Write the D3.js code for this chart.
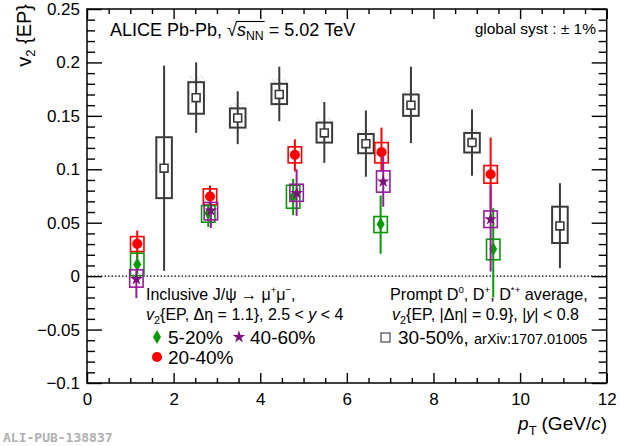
<!DOCTYPE html>
<html><head><meta charset="utf-8">
<script src="https://cdn.jsdelivr.net/npm/d3@7"></script>
<style>
body{margin:0;background:#fff;}
svg{display:block;font-family:"Liberation Sans",Arial,sans-serif;}
</style></head>
<body>
<svg id="c" width="620" height="446"></svg>
<script>
// ---- axis ticks ----
const xMajor = [0, 2, 4, 6, 8, 10, 12];
const yMajor = [-0.1, -0.05, 0, 0.05, 0.1, 0.15, 0.2, 0.25];
const yLabels = ["\u22120.1", "\u22120.05", "0", "0.05", "0.1", "0.15", "0.2", "0.25"];

// ---- Prompt D average, 30-50% ----
const dPt      = [1.78, 2.52, 3.48, 4.44, 5.48, 6.44, 7.48, 8.89, 10.92];
const dV2      = [0.101, 0.167, 0.148, 0.170, 0.134, 0.124, 0.160, 0.125, 0.047];
const dStatHi  = [0.197, 0.200, 0.173, 0.196, 0.163, 0.155, 0.196, 0.156, 0.087];
const dStatLo  = [0.005, 0.134, 0.1235, 0.145, 0.106, 0.093, 0.1245, 0.094, 0.0075];
const dSysHi   = [0.130, 0.1815, 0.157, 0.180, 0.1437, 0.133, 0.170, 0.134, 0.065];
const dSysLo   = [0.073, 0.152, 0.139, 0.161, 0.125, 0.115, 0.150, 0.1157, 0.031];
const dFeedHi  = [0.130, 0.188, 0.162, 0.185, 0.148, 0.137, 0.174, 0.138, 0.065];

// ---- Inclusive J/psi, 5-20% ----
const gPt     = [1.16, 2.80, 4.76, 6.78, 9.38];
const gV2     = [0.011, 0.059, 0.074, 0.0486, 0.0253];
const gStatHi = [0.020, 0.068, 0.091, 0.0754, 0.0636];
const gStatLo = [0.002, 0.046, 0.057, 0.0209, -0.02];
const gSysHi  = [0.0215, 0.066, 0.085, 0.0558, 0.0346];
const gSysLo  = [0.0005, 0.0505, 0.0636, 0.0408, 0.0153];

// ---- Inclusive J/psi, 20-40% ----
const rPt     = [1.16, 2.84, 4.80, 6.80, 9.32];
const rV2     = [0.0302, 0.0745, 0.1135, 0.116, 0.0954];
const rStatHi = [0.0427, 0.0848, 0.128, 0.139, 0.1297];
const rStatLo = [0.0168, 0.0658, 0.098, 0.098, 0.062];
const rSysHi  = [0.037, 0.0817, 0.121, 0.125, 0.1035];
const rSysLo  = [0.023, 0.0667, 0.106, 0.106, 0.087];

// ---- Inclusive J/psi, 40-60% ----
const pPt     = [1.14, 2.86, 4.84, 6.84, 9.32];
const pV2     = [-0.0028, 0.0614, 0.0777, 0.0885, 0.0533];
const pStatHi = [0.006, 0.070, 0.100, 0.112, 0.085];
const pStatLo = [-0.0206, 0.045, 0.0564, 0.065, 0.0043];
const pSysHi  = [0.006, 0.069, 0.086, 0.0985, 0.061];
const pSysLo  = [-0.0103, 0.0527, 0.070, 0.0786, 0.0455];

const svg = d3.select("#c");
const x = d3.scaleLinear().domain([0, 12]).range([87, 606.7]);
const y = d3.scaleLinear().domain([-0.1, 0.25]).range([383, 9]);
const X0 = x(0), X1 = x(12), Y0 = y(0.25), Y1 = y(-0.1);

// hatch pattern
const defs = svg.append("defs");
const pat = defs.append("pattern").attr("id","hatch").attr("patternUnits","userSpaceOnUse")
  .attr("width",4).attr("height",4).attr("patternTransform","rotate(-45)");
pat.append("line").attr("x1",0).attr("y1",0).attr("x2",0).attr("y2",4)
  .attr("stroke","#c8c8c8").attr("stroke-width",1.2);

// zero line
svg.append("line").attr("x1",X0).attr("x2",X1).attr("y1",y(0)).attr("y2",y(0))
  .attr("stroke","#000").attr("stroke-width",1.2).attr("stroke-dasharray","1.5,2");

// ---- axes ----
const xMinor = d3.range(0, 12.01, 0.5).filter(v => Math.abs(v % 2) > 1e-9);
const yMinor = d3.range(-0.1, 0.2501, 0.01).filter(v => Math.abs(Math.round(v*100) % 5) !== 0);

function styleAxis(g){ g.select(".domain").remove(); g.selectAll("line").attr("stroke","#000").attr("stroke-width",1.4); }

svg.append("g").attr("transform",`translate(0,${Y1})`)
  .call(d3.axisBottom(x).tickValues(xMajor).tickSizeInner(-10).tickSizeOuter(0).tickPadding(10).tickFormat(d3.format("d")))
  .call(styleAxis).selectAll("text").attr("font-size",17).attr("font-family","Liberation Sans, Arial").attr("fill","#000");
svg.append("g").attr("transform",`translate(0,${Y1})`)
  .call(d3.axisBottom(x).tickValues(xMinor).tickSizeInner(-5).tickSizeOuter(0).tickFormat(""))
  .call(styleAxis);
svg.append("g").attr("transform",`translate(0,${Y0})`)
  .call(d3.axisTop(x).tickValues(xMajor).tickSizeInner(-10).tickSizeOuter(0).tickFormat(""))
  .call(styleAxis);
svg.append("g").attr("transform",`translate(0,${Y0})`)
  .call(d3.axisTop(x).tickValues(xMinor).tickSizeInner(-5).tickSizeOuter(0).tickFormat(""))
  .call(styleAxis);

svg.append("g").attr("transform",`translate(${X0},0)`)
  .call(d3.axisLeft(y).tickValues(yMajor).tickSizeInner(-15).tickSizeOuter(0).tickPadding(7)
    .tickFormat((d,i) => yLabels[i]))
  .call(styleAxis).selectAll("text").attr("font-size",17).attr("font-family","Liberation Sans, Arial").attr("fill","#000");
svg.append("g").attr("transform",`translate(${X0},0)`)
  .call(d3.axisLeft(y).tickValues(yMinor).tickSizeInner(-8).tickSizeOuter(0).tickFormat(""))
  .call(styleAxis);
svg.append("g").attr("transform",`translate(${X1},0)`)
  .call(d3.axisRight(y).tickValues(yMajor).tickSizeInner(-15).tickSizeOuter(0).tickFormat(""))
  .call(styleAxis);
svg.append("g").attr("transform",`translate(${X1},0)`)
  .call(d3.axisRight(y).tickValues(yMinor).tickSizeInner(-8).tickSizeOuter(0).tickFormat(""))
  .call(styleAxis);

// frame
svg.append("rect").attr("x",X0).attr("y",Y0).attr("width",X1-X0).attr("height",Y1-Y0)
  .attr("fill","none").attr("stroke","#000").attr("stroke-width",1.5);

// ---- series drawing ----
function drawSeries(opt){
  const g = svg.append("g");
  const n = opt.pt.length;
  const idx = d3.range(n);
  const hw = opt.boxHalf;
  if (opt.feed){
    g.selectAll(".fd").data(idx).join("rect")
      .attr("x", i => x(opt.pt[i]-hw)).attr("width", i => x(opt.pt[i]+hw)-x(opt.pt[i]-hw))
      .attr("y", i => y(opt.feed[i])).attr("height", i => Math.max(0, y(opt.sysHi[i]) - y(opt.feed[i])))
      .attr("fill","url(#hatch)");
  }
  g.selectAll(".sys").data(idx).join("rect")
    .attr("x", i => x(opt.pt[i]-hw)).attr("width", i => x(opt.pt[i]+hw)-x(opt.pt[i]-hw))
    .attr("y", i => y(opt.sysHi[i])).attr("height", i => y(opt.sysLo[i]) - y(opt.sysHi[i]))
    .attr("fill","none").attr("stroke",opt.color).attr("stroke-width",opt.boxW);
  g.selectAll(".err").data(idx).join("line")
    .attr("x1", i => x(opt.pt[i])).attr("x2", i => x(opt.pt[i]))
    .attr("y1", i => y(opt.statHi[i])).attr("y2", i => y(opt.statLo[i]))
    .attr("stroke",opt.color).attr("stroke-width",2);
  g.selectAll(".mk").data(idx).join("path")
    .attr("transform", i => `translate(${x(opt.pt[i])},${y(opt.v2[i])})`)
    .attr("d", opt.symbol)
    .attr("fill", opt.fill).attr("stroke", opt.mstroke || "none").attr("stroke-width", opt.mstrokeW || 0);
}

const GRAY = "#3a3a3a", RED = "#ff0000", GREEN = "#079a07", PURPLE = "#9a1a9e";
const sqSym = d3.symbol().type(d3.symbolSquare).size(62)();
drawSeries({pt:dPt, v2:dV2, statHi:dStatHi, statLo:dStatLo, sysHi:dSysHi, sysLo:dSysLo, feed:dFeedHi,
  color:GRAY, boxHalf:0.18, boxW:2, symbol:sqSym, fill:"#fff", mstroke:GRAY, mstrokeW:1.6});
drawSeries({pt:rPt, v2:rV2, statHi:rStatHi, statLo:rStatLo, sysHi:rSysHi, sysLo:rSysLo,
  color:RED, boxHalf:0.155, boxW:1.6, symbol:d3.symbol().type(d3.symbolCircle).size(80)(), fill:RED});
drawSeries({pt:gPt, v2:gV2, statHi:gStatHi, statLo:gStatLo, sysHi:gSysHi, sysLo:gSysLo,
  color:GREEN, boxHalf:0.155, boxW:1.6, symbol:d3.symbol().type(d3.symbolDiamond).size(55)(), fill:GREEN});
drawSeries({pt:pPt, v2:pV2, statHi:pStatHi, statLo:pStatLo, sysHi:pSysHi, sysLo:pSysLo,
  color:PURPLE, boxHalf:0.155, boxW:1.6, symbol:d3.symbol().type(d3.symbolStar).size(50)(), fill:"#80107f"});

// ---- rich text helper ----
function rich(x0, y0, pieces, size, anchorEnd){
  const g = svg.append("g");
  let cx = x0;
  const els = [];
  pieces.forEach(p => {
    const fs = p.s ? size*p.s : size;
    const t = g.append("text").attr("x",cx).attr("y",y0 + (p.dy||0))
      .attr("font-size",fs).attr("fill",p.c||"#000")
      .attr("font-style",p.i?"italic":"normal")
      .attr("font-family",p.f||"Liberation Sans, Arial").text(p.t.replace(/ /g,"\u00A0"));
    const w = t.node().getComputedTextLength();
    els.push({node:t, x:cx, w:w, p:p});
    cx += w + (p.gap||0);
  });
  if (anchorEnd){
    const shift = x0 - cx;
    els.forEach(e => e.node.attr("x", e.x + shift));
    els.forEach(e => e.x += shift);
  }
  return els;
}

// title
const tEls = rich(110, 36, [
  {t:"ALICE Pb-Pb, "},
  {t:"\u221A", gap:0},
  {t:"s", i:true},
  {t:"NN", s:0.68, dy:4},
  {t:" = 5.02 TeV"}
], 18);
// overline of sqrt
{
  const sq = tEls[1], nn = tEls[3];
  svg.append("line").attr("x1",sq.x+sq.w-1).attr("x2",nn.x+nn.w+1)
    .attr("y1",36-14.5).attr("y2",36-14.5).attr("stroke","#000").attr("stroke-width",1.1);
}

rich(596, 34, [{t:"global syst : \u00B1 1%"}], 15.5, true);

// y title
svg.append("text").attr("transform","translate(31,4) rotate(-90)").attr("text-anchor","end")
  .attr("font-size",20).attr("font-family","Liberation Sans, Arial")
  .call(t => { t.append("tspan").text("v");
               t.append("tspan").attr("font-size",13).attr("dy",4).text("2");
               t.append("tspan").attr("dy",-4).text("\u00A0{EP}"); });

// x title
rich(607, 430, [
  {t:"p", i:true},
  {t:"T", s:0.68, dy:5, gap:5},
  {t:"(GeV/"},
  {t:"c", i:true},
  {t:")"}
], 19, true);

// legend left
rich(146, 300, [{t:"Inclusive J/\u03C8 \u2192 \u03BC"},{t:"+", s:0.6, dy:-7},{t:"\u03BC"},{t:"\u2212", s:0.6, dy:-7},{t:","}], 16);
rich(146, 320, [{t:"v", i:true},{t:"2", s:0.68, dy:4},{t:"{EP, \u0394\u03B7 = 1.1}, 2.5 < "},{t:"y", i:true},{t:" < 4"}], 16);
svg.append("path").attr("transform","translate(157,337)").attr("d",d3.symbol().type(d3.symbolDiamond).size(55)()).attr("fill",GREEN);
rich(168, 344, [{t:"5-20%"}], 19);
svg.append("path").attr("transform","translate(239,337)").attr("d",d3.symbol().type(d3.symbolStar).size(50)()).attr("fill","#80107f");
rich(250, 344, [{t:"40-60%"}], 19);
svg.append("path").attr("transform","translate(157,357)").attr("d",d3.symbol().type(d3.symbolCircle).size(80)()).attr("fill",RED);
rich(168, 364, [{t:"20-40%"}], 19);

// legend right
rich(390, 300, [{t:"Prompt D"},{t:"0", s:0.6, dy:-7},{t:", D"},{t:"+", s:0.6, dy:-7},{t:", D"},{t:"*+", s:0.6, dy:-7},{t:" average,"}], 16.2);
rich(392, 320, [{t:"v", i:true},{t:"2", s:0.68, dy:4},{t:"{EP, |\u0394\u03B7| = 0.9}, |"},{t:"y", i:true},{t:"| < 0.8"}], 16);
svg.append("rect").attr("x",381).attr("y",333).attr("width",9).attr("height",9)
  .attr("fill","#fff").attr("stroke","#555").attr("stroke-width",1.3);
rich(398, 344, [{t:"30-50%, "},{t:"arXiv:1707.01005", s:0.76}], 19);

// watermark
svg.append("text").attr("x",3).attr("y",442).attr("font-size",13).attr("font-weight","bold")
  .attr("font-family","DejaVu Sans Mono, Liberation Mono, monospace").attr("fill","#b0b0b0")
  .text("ALI-PUB-138837");
</script>
</body></html>
